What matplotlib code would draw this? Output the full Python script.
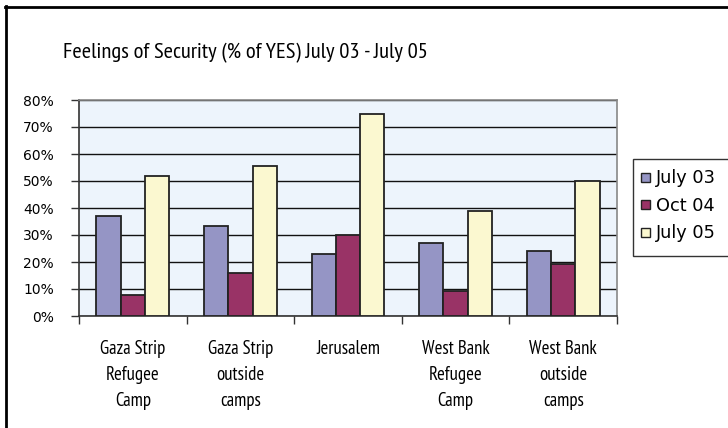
import matplotlib
matplotlib.use("Agg")
import matplotlib.pyplot as plt
import numpy as np
from matplotlib.patches import Rectangle
from matplotlib.lines import Line2D
from matplotlib import font_manager as fm

categories = ["Gaza Strip\nRefugee\nCamp", "Gaza Strip\noutside\ncamps", "Jerusalem",
              "West Bank\nRefugee\nCamp", "West Bank\noutside\ncamps"]
series_names = ["July 03", "Oct 04", "July 05"]
july03 = [37.1, 33.3, 23.1, 27.0, 24.2]
oct04 = [7.8, 15.8, 29.9, 9.1, 19.4]
july05 = [51.7, 55.7, 74.9, 38.9, 50.1]
yticks = [0, 10, 20, 30, 40, 50, 60, 70, 80]

colors = ["#9595c5", "#993366", "#fbf8d0"]

names = set(f.name for f in fm.fontManager.ttflist)
cands = ["PT Sans Narrow", "Fira Sans Condensed", "Roboto Condensed", "Open Sans Condensed",
         "Encode Sans Condensed", "Archivo Narrow", "Asap Condensed", "Liberation Sans Narrow",
         "Ubuntu Condensed", "Saira Condensed"]
NARROW = next((c for c in cands if c in names), "DejaVu Sans")
FONT = [NARROW, "DejaVu Sans"]
plt.rcParams['font.family'] = FONT

W, H = 728, 428
fig = plt.figure(figsize=(W / 100, H / 100), dpi=100)
fig.patch.set_facecolor("white")

L, R, T, B = 79, 617, 100, 316
ax = fig.add_axes([L / W, 1 - B / H, (R - L) / W, (B - T) / H])
ax.set_facecolor("#edf4fc")

x = np.arange(len(categories))
bw = 0.226
for i, (vals, c) in enumerate(zip([july03, oct04, july05], colors)):
    ax.bar(x + (i - 1) * bw, vals, width=bw, color=c, edgecolor="#222222",
           linewidth=1.3, zorder=3, label=series_names[i])

ax.set_xlim(-0.5, len(categories) - 0.5)
ax.set_ylim(0, 80)
ax.set_yticks(yticks)
ax.set_yticklabels([f"{v}%" for v in yticks], fontsize=10, family=["DejaVu Sans"])
ax.yaxis.grid(True, color="#111111", linewidth=1.0, zorder=1)
ax.tick_params(axis="y", length=6, width=1, color="#333333", pad=12)

ax.set_xticks(np.arange(len(categories) + 1) - 0.5)
ax.set_xticklabels([])
ax.tick_params(axis="x", length=6, width=1, color="#333333")
ax.set_xticks(x, minor=True)
ax.set_xticklabels(categories, minor=True, fontsize=13.5, linespacing=1.6)
ax.tick_params(axis="x", which="minor", length=0, pad=17)

for s in ["top", "right"]:
    ax.spines[s].set_color("#888888")
    ax.spines[s].set_linewidth(1.2)
for s in ["left", "bottom"]:
    ax.spines[s].set_color("#333333")
    ax.spines[s].set_linewidth(1.2)

fig.text(245 / W, 1 - 53 / H, "Feelings of Security (% of YES) July 03 - July 05",
         ha="center", va="center", fontsize=16.2)

# legend box
lx0, ly0, ly1 = 633, 159, 256
fig.add_artist(Rectangle((lx0 / W, 1 - ly1 / H), (W + 10 - lx0) / W, (ly1 - ly0) / H,
                         transform=fig.transFigure, facecolor="white",
                         edgecolor="#333333", linewidth=1.0, clip_on=False))
for i, (name, c) in enumerate(zip(series_names, colors)):
    yc = 178 + i * 27.5
    fig.add_artist(Rectangle((641 / W, 1 - (yc + 4) / H), 9 / W, 9 / H,
                             transform=fig.transFigure, facecolor=c,
                             edgecolor="#222222", linewidth=1.0))
    fig.text(656 / W, 1 - yc / H, name, ha="left", va="center", fontsize=12.8,
             family=["DejaVu Sans"])

# outer border (left and top edges visible)
fig.add_artist(Line2D([5.5 / W, 5.5 / W], [0, 1 - 6 / H], transform=fig.transFigure,
                      color="black", linewidth=2))
fig.add_artist(Line2D([5 / W, 1], [1 - 6.5 / H, 1 - 6.5 / H], transform=fig.transFigure,
                      color="black", linewidth=2))

fig.savefig("out.png", dpi=100)
